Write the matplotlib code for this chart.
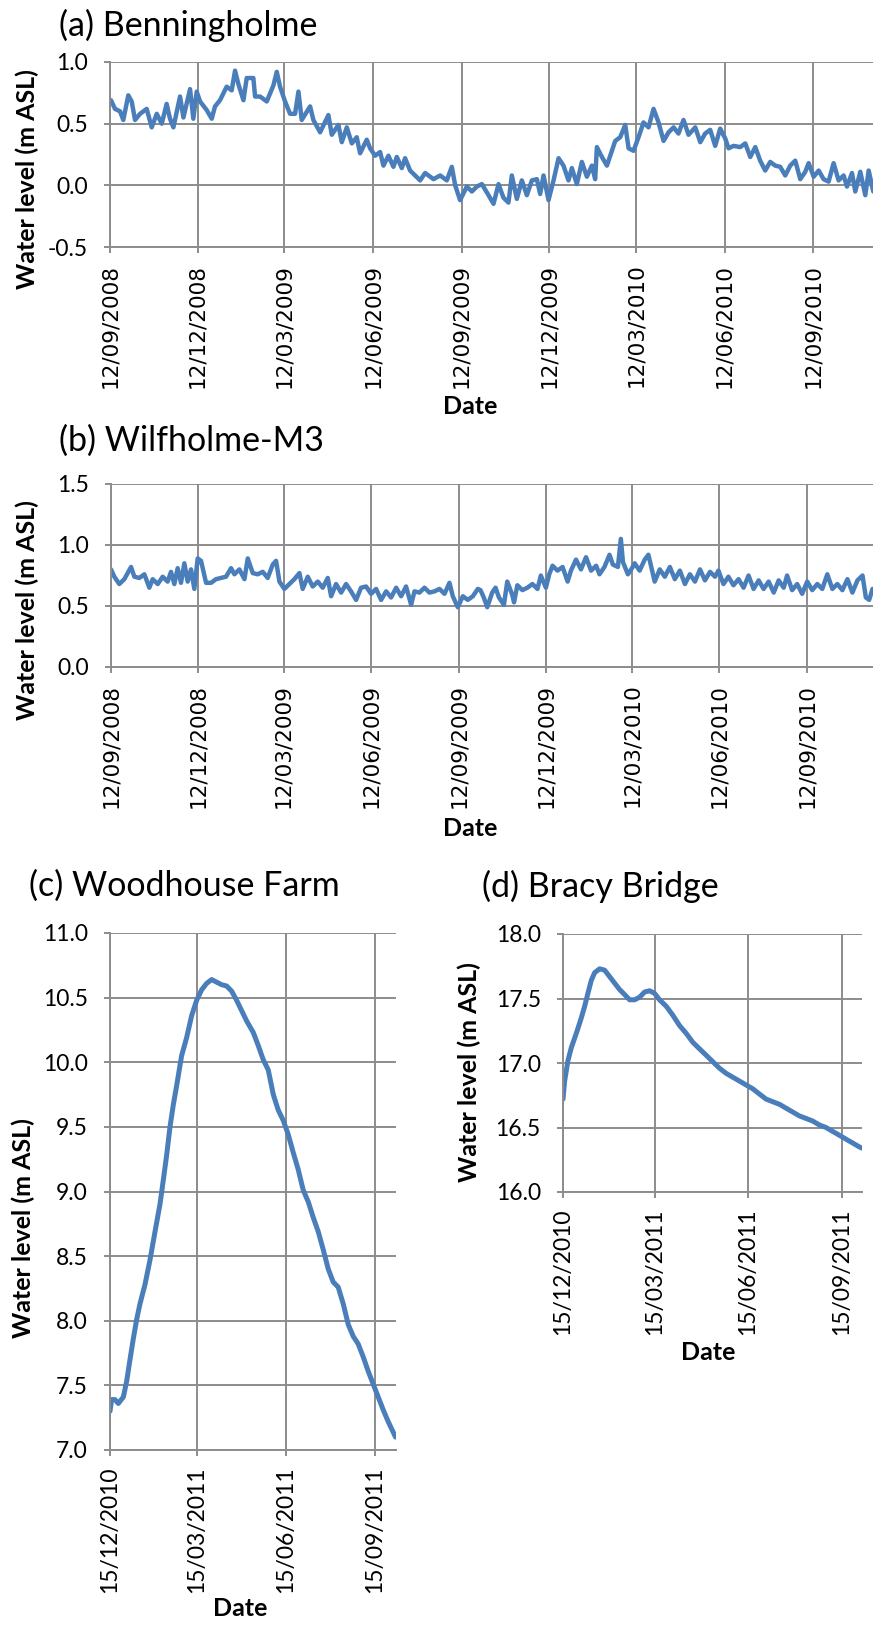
import numpy as np
import pandas as pd
import matplotlib
matplotlib.use('Agg')
import matplotlib.pyplot as plt
import matplotlib.dates as mdates
from matplotlib.ticker import FuncFormatter

plt.rcParams['font.family'] = ['Lato', 'DejaVu Sans']
plt.rcParams['axes.unicode_minus'] = False

# ---- data: days since first tick date, water level (m ASL) ----
a_days = [1.0, 5.2, 10.4, 13.8, 19.0, 22.5, 26.0, 31.2, 38.1, 43.3,
          48.5, 53.7, 58.8, 62.3, 65.8, 72.7, 76.2, 83.1, 86.5, 90.0,
          93.5, 100.4, 105.6, 109.0, 114.2, 121.1, 126.3, 129.8, 133.3, 138.5,
          141.9, 148.8, 150.6, 155.8, 162.7, 169.6, 173.1, 176.5, 181.7, 186.9,
          192.1, 195.6, 199.0, 207.7, 211.1, 218.1, 226.7, 230.2, 237.1, 240.6,
          245.8, 251.0, 256.1, 259.6, 266.5, 270.0, 275.2, 280.4, 283.8, 289.0,
          294.2, 297.7, 302.9, 306.3, 311.5, 316.7, 321.9, 327.1, 335.8, 342.7,
          349.6, 354.8, 358.3, 363.4, 370.4, 375.6, 380.8, 386.0,
          392.9, 398.1, 403.3, 408.4, 413.6, 417.1, 422.3, 427.5, 432.7, 437.9,
          443.1, 446.5, 450.0, 455.2, 460.4, 465.6, 470.7, 475.9, 479.4, 484.6,
          489.8, 495.0, 500.2, 503.6, 505.4, 510.6, 515.8, 520.9, 524.4, 529.6,
          534.8, 538.3, 543.4, 548.6, 553.8, 559.0, 564.2, 569.4, 574.6, 579.8,
          585.0, 590.1, 595.3, 600.5, 607.5, 612.7, 617.8, 623.0, 628.2, 633.4,
          638.6, 642.1, 647.3, 654.2, 659.4, 664.6, 669.8, 674.9, 680.1, 685.3,
          690.5, 695.7, 700.9, 706.1, 711.3, 716.5, 721.7, 725.2, 730.4, 735.6,
          740.7, 745.9, 751.1, 756.3, 761.5, 765.0, 770.2, 773.6, 778.8, 784.0,
          787.5, 792.3]
a_vals = [0.69, 0.62, 0.60, 0.53, 0.73, 0.68, 0.53, 0.58, 0.62, 0.47,
          0.58, 0.50, 0.66, 0.54, 0.47, 0.72, 0.55, 0.78, 0.54, 0.76,
          0.68, 0.61, 0.54, 0.64, 0.69, 0.80, 0.77, 0.93, 0.82, 0.69,
          0.87, 0.87, 0.72, 0.72, 0.68, 0.81, 0.92, 0.80, 0.68, 0.58,
          0.58, 0.76, 0.53, 0.64, 0.53, 0.43, 0.57, 0.41, 0.49, 0.35,
          0.47, 0.34, 0.39, 0.26, 0.37, 0.30, 0.24, 0.27, 0.16, 0.24,
          0.15, 0.23, 0.14, 0.22, 0.12, 0.08, 0.04, 0.10, 0.05, 0.08,
          0.04, 0.15, 0.00, -0.12, -0.01, -0.05, -0.01, 0.01,
          -0.08, -0.15, 0.01, -0.10, -0.14, 0.08, -0.11, 0.04, -0.08, 0.04,
          0.05, -0.07, 0.08, -0.12, 0.04, 0.22, 0.16, 0.04, 0.14, 0.01,
          0.19, 0.07, 0.16, 0.05, 0.31, 0.23, 0.16, 0.28, 0.36, 0.39,
          0.49, 0.30, 0.28, 0.39, 0.51, 0.47, 0.62, 0.51, 0.36, 0.43,
          0.47, 0.42, 0.53, 0.41, 0.47, 0.35, 0.42, 0.45, 0.32, 0.46,
          0.38, 0.30, 0.32, 0.31, 0.34, 0.23, 0.31, 0.20, 0.12, 0.19,
          0.16, 0.15, 0.08, 0.16, 0.20, 0.05, 0.11, 0.18, 0.07, 0.12,
          0.05, 0.03, 0.18, 0.04, 0.08, -0.01, 0.10, -0.05, 0.11, -0.08,
          0.12, -0.05]

b_days = [0, 3.5, 8.7, 14.0, 21.0, 24.5, 29.7, 35.0, 40.2, 43.7,
          49.0, 54.2, 59.4, 62.9, 66.4, 69.9, 73.4, 76.9, 80.4, 83.9,
          87.4, 90.9, 94.4, 99.7, 104.9, 110.1, 115.4, 120.6, 125.9, 129.4,
          134.6, 139.9, 143.4, 148.6, 153.8, 159.1, 164.3, 169.6, 173.1, 176.6,
          181.8, 187.1, 192.3, 197.6, 201.0, 206.3, 211.5, 216.8, 222.0, 227.3,
          230.8, 236.0, 241.3, 246.5, 251.7, 257.0, 262.2, 267.5, 272.7, 278.0,
          283.2, 288.5, 293.7, 299.0, 304.2, 309.4, 314.7, 318.2, 323.4, 328.7,
          333.9, 339.2, 344.4, 349.7, 354.9, 358.4, 363.6, 368.9, 374.1, 379.4,
          384.6,
          387.4, 390.9, 394.5, 399.7, 403.2, 406.8, 412.0, 415.5, 420.8, 422.6,
          426.1, 431.4, 436.6, 441.9, 447.2, 450.7, 456.0, 459.5, 463.0, 468.2,
          473.5, 478.8, 482.3, 487.6, 492.8, 498.1, 503.4, 508.7, 512.2, 517.4,
          522.7, 526.2, 531.5, 534.6, 536.8, 542.0, 545.5, 549.1, 554.3, 559.6,
          563.5, 570.1, 575.4, 580.7, 586.0, 591.2, 596.5, 601.8, 607.0, 612.3,
          617.6, 622.8, 628.1, 633.4, 636.9, 642.2, 647.4, 652.7, 658.0, 663.3,
          668.5, 673.8, 679.1, 684.3, 689.6, 694.9, 700.1, 705.4, 708.9, 714.2,
          719.5, 724.7, 730.0, 735.3, 740.6, 745.8, 751.1, 756.4, 761.6, 766.9,
          772.2, 777.4, 782.7, 788.0, 791.5, 795.0, 798.5, 801.7]
b_vals = [0.80, 0.74, 0.68, 0.72, 0.82, 0.74, 0.73, 0.76, 0.65, 0.72,
          0.68, 0.74, 0.70, 0.78, 0.68, 0.81, 0.69, 0.85, 0.70, 0.80,
          0.64, 0.89, 0.87, 0.69, 0.69, 0.72, 0.73, 0.74, 0.81, 0.76,
          0.80, 0.72, 0.89, 0.77, 0.76, 0.78, 0.73, 0.84, 0.87, 0.70,
          0.64, 0.68, 0.72, 0.77, 0.64, 0.74, 0.66, 0.70, 0.65, 0.73,
          0.58, 0.68, 0.61, 0.68, 0.62, 0.55, 0.65, 0.66, 0.60, 0.64,
          0.55, 0.62, 0.57, 0.65, 0.58, 0.66, 0.51, 0.62, 0.61, 0.65,
          0.61, 0.62, 0.64, 0.60, 0.69, 0.58, 0.49, 0.58, 0.55, 0.58,
          0.64,
          0.63, 0.57, 0.49, 0.61, 0.65, 0.57, 0.51, 0.70, 0.59, 0.53,
          0.67, 0.63, 0.65, 0.68, 0.64, 0.75, 0.65, 0.76, 0.83, 0.79,
          0.82, 0.70, 0.79, 0.88, 0.80, 0.90, 0.79, 0.83, 0.76, 0.82,
          0.92, 0.84, 0.82, 1.05, 0.86, 0.76, 0.80, 0.85, 0.79, 0.88,
          0.92, 0.70, 0.80, 0.74, 0.82, 0.72, 0.79, 0.68, 0.76, 0.70,
          0.80, 0.71, 0.78, 0.74, 0.79, 0.68, 0.74, 0.67, 0.72, 0.65,
          0.75, 0.64, 0.71, 0.64, 0.70, 0.61, 0.71, 0.65, 0.75, 0.63,
          0.68, 0.60, 0.70, 0.63, 0.68, 0.64, 0.76, 0.64, 0.68, 0.63,
          0.72, 0.61, 0.71, 0.75, 0.57, 0.55, 0.64, 0.60]

c_days = [0.0, 1.7, 5.2, 8.6, 13.8, 17.2, 20.7, 24.1, 27.6, 31.0,
          36.2, 41.4, 46.6, 51.7, 55.2, 58.6, 62.1, 65.5, 69.0, 74.1,
          79.3, 84.5, 89.7, 94.8, 100.0, 105.2, 110.3, 115.5, 120.7, 125.9,
          131.0, 136.2, 141.4, 148.3, 153.4, 158.6, 163.8, 169.0, 174.1, 179.3,
          184.5, 189.7, 194.8, 200.0, 205.2, 210.3, 215.5, 220.7, 225.9, 231.0,
          236.2, 241.4, 246.6, 251.7, 256.9, 262.1, 267.2, 272.4, 277.6, 282.8,
          287.9, 295.5]
c_vals = [7.30, 7.39, 7.39, 7.36, 7.41, 7.53, 7.70, 7.86, 8.01, 8.13,
          8.28, 8.47, 8.69, 8.90, 9.09, 9.28, 9.50, 9.67, 9.82, 10.05,
          10.19, 10.36, 10.48, 10.56, 10.61, 10.64, 10.62, 10.60, 10.59, 10.55,
          10.48, 10.40, 10.32, 10.23, 10.13, 10.02, 9.94, 9.75, 9.63, 9.55,
          9.44, 9.30, 9.17, 9.01, 8.92, 8.80, 8.69, 8.55, 8.40, 8.30,
          8.26, 8.13, 7.97, 7.88, 7.82, 7.72, 7.61, 7.51, 7.41, 7.31,
          7.22, 7.10]

d_days = [0, 1.6, 4.9, 8.2, 13.1, 18.0, 21.3, 24.5, 27.8, 31.1,
          36.0, 40.9, 45.8, 50.7, 55.6, 60.6, 65.5, 70.4, 75.3, 80.2,
          85.1, 90.0, 94.9, 101.5, 108.0, 114.6, 121.1, 127.7, 134.2, 140.8,
          147.3, 153.8, 160.4, 166.9, 173.5, 180.0, 186.6, 193.1, 199.7, 206.2,
          212.8, 219.3, 225.9, 232.4, 239.0, 245.5, 252.0, 258.6, 265.1, 271.7,
          278.2, 284.8, 291.3, 293.9]
d_vals = [16.72, 16.86, 17.02, 17.12, 17.23, 17.35, 17.44, 17.54, 17.64, 17.70,
          17.73, 17.72, 17.67, 17.62, 17.57, 17.53, 17.49, 17.49, 17.51, 17.55,
          17.56, 17.54, 17.49, 17.44, 17.37, 17.29, 17.23, 17.16, 17.11, 17.06,
          17.01, 16.96, 16.92, 16.89, 16.86, 16.83, 16.80, 16.76, 16.72, 16.70,
          16.68, 16.65, 16.62, 16.59, 16.57, 16.55, 16.52, 16.50, 16.47, 16.44,
          16.41, 16.38, 16.35, 16.34]

ab_ticks = ['12/09/2008', '12/12/2008', '12/03/2009', '12/06/2009', '12/09/2009',
            '12/12/2009', '12/03/2010', '12/06/2010', '12/09/2010']
cd_ticks = ['15/12/2010', '15/03/2011', '15/06/2011', '15/09/2011']

W, H = 873, 1629
BLUE = '#4a7ebb'
GREY = '#8c8c8c'


def fx(x):
    return x / W


def fy(y):
    return 1 - y / H


def panel(fig, box, ticks, days, vals, span, ylim, ystep, lw, xfont):
    left, top, right, bottom = box
    ax = fig.add_axes([fx(left), fy(bottom), (right - left) / W, (bottom - top) / H])
    t0 = pd.to_datetime(ticks[0], dayfirst=True)
    x = t0 + pd.to_timedelta(np.array(days), unit='D')
    ax.plot(x, vals, color=BLUE, lw=lw, solid_joinstyle='round', solid_capstyle='round')
    ax.set_xlim(t0, t0 + pd.Timedelta(days=span))
    ax.set_ylim(*ylim)
    ax.set_yticks(np.arange(ylim[0], ylim[1] + ystep / 2, ystep))
    ax.yaxis.set_major_formatter(FuncFormatter(lambda v, p: '%.1f' % v))
    ax.set_xticks(pd.to_datetime(ticks, dayfirst=True))
    ax.xaxis.set_major_formatter(mdates.DateFormatter('%d/%m/%Y'))
    ax.grid(True, color=GREY, lw=1.4)
    for s in ['top', 'right']:
        ax.spines[s].set_visible(False)
    for s in ['left', 'bottom']:
        ax.spines[s].set_color(GREY)
        ax.spines[s].set_linewidth(1.4)
    ax.tick_params(direction='out', length=4, width=1.4, color=GREY, labelsize=16.5)
    ax.tick_params(axis='x', labelrotation=90, pad=8,
                   labelfontfamily=xfont[0], labelsize=xfont[1])
    ax.tick_params(axis='y', pad=12)
    return ax


fig = plt.figure(figsize=(W / 100, H / 100), dpi=100)

panel(fig, (110, 62, 873, 247), ab_ticks, a_days, a_vals, 792, (-0.5, 1.0), 0.5, 3.2,
      ('DejaVu Sans', 15.5))
panel(fig, (111, 484, 873, 667), ab_ticks, b_days, b_vals, 799, (0.0, 1.5), 0.5, 3.2,
      ('DejaVu Sans', 15.5))
panel(fig, (110, 933, 396, 1450), cd_ticks, c_days, c_vals, 296, (7.0, 11.0), 0.5, 3.6,
      ('Lato', 16.5))
panel(fig, (563, 934, 862, 1192), cd_ticks, d_days, d_vals, 294, (16.0, 18.0), 0.5, 3.6,
      ('Lato', 16.5))

titles = [('(a) Benningholme', 59, 25), ('(b) Wilfholme-M3', 59, 441),
          ('(c) Woodhouse Farm', 29, 886), ('(d) Bracy Bridge', 482, 886)]
for t, x, y in titles:
    fig.text(fx(x), fy(y), t, fontsize=24.5, ha='left', va='center')

ylabs = [(27, 179), (27, 610), (23, 1228), (469, 1072)]
for x, y in ylabs:
    fig.text(fx(x), fy(y), 'Water level (m ASL)', fontsize=18, fontweight='bold',
             rotation=90, ha='center', va='center')

dates = [(470, 406), (470, 828), (240, 1608), (708, 1353)]
for x, y in dates:
    fig.text(fx(x), fy(y), 'Date', fontsize=18, fontweight='bold', ha='center', va='center')

fig.savefig('out.png', dpi=100)
